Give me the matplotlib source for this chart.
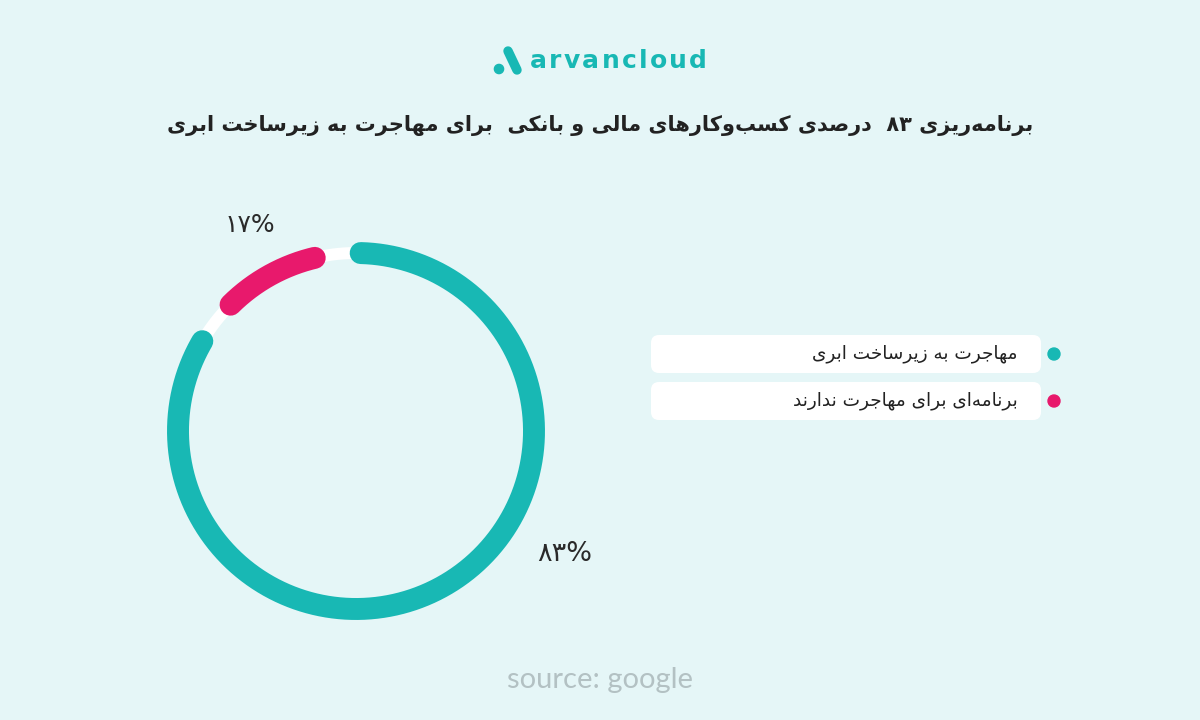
import re

import numpy as np
import matplotlib

matplotlib.use("Agg")
import matplotlib.pyplot as plt
from matplotlib.patches import FancyBboxPatch, Circle
from matplotlib.font_manager import FontProperties
from matplotlib.textpath import TextToPath

# data
title = "برنامه\u200cریزی ۸۳  درصدی کسب\u200cوکارهای مالی و بانکی  برای مهاجرت به زیرساخت ابری"
categories = ["مهاجرت به زیرساخت ابری", "برنامه\u200cای برای مهاجرت ندارند"]
shares = [83, 17]
value_labels = ["۸۳%", "۱۷%"]
colors = ["#18B8B4", "#E8196C"]
source = "source: google"
brand = "arvancloud"

BG = "#E5F6F7"

# Persian presentation forms: isolated, final, (initial, medial)
FORMS = {
    "ا": ("\uFE8D", "\uFE8E"),
    "ب": ("\uFE8F", "\uFE90", "\uFE91", "\uFE92"),
    "ت": ("\uFE95", "\uFE96", "\uFE97", "\uFE98"),
    "ج": ("\uFE9D", "\uFE9E", "\uFE9F", "\uFEA0"),
    "خ": ("\uFEA5", "\uFEA6", "\uFEA7", "\uFEA8"),
    "د": ("\uFEA9", "\uFEAA"),
    "ر": ("\uFEAD", "\uFEAE"),
    "ز": ("\uFEAF", "\uFEB0"),
    "س": ("\uFEB1", "\uFEB2", "\uFEB3", "\uFEB4"),
    "ص": ("\uFEB9", "\uFEBA", "\uFEBB", "\uFEBC"),
    "ل": ("\uFEDD", "\uFEDE", "\uFEDF", "\uFEE0"),
    "م": ("\uFEE1", "\uFEE2", "\uFEE3", "\uFEE4"),
    "ن": ("\uFEE5", "\uFEE6", "\uFEE7", "\uFEE8"),
    "ه": ("\uFEE9", "\uFEEA", "\uFEEB", "\uFEEC"),
    "و": ("\uFEED", "\uFEEE"),
    "ک": ("\uFB8E", "\uFB8F", "\uFB90", "\uFB91"),
    "ی": ("\uFBFC", "\uFBFD", "\uFBFE", "\uFBFF"),
}


def fa(text):
    """shape persian text and put it in visual (left to right) order"""
    out = []
    for i, c in enumerate(text):
        if c not in FORMS:
            out.append(c)
            continue
        f = FORMS[c]
        prev = text[i - 1] if i > 0 else ""
        nxt = text[i + 1] if i + 1 < len(text) else ""
        jp = prev in FORMS and len(FORMS[prev]) == 4
        jn = len(f) == 4 and nxt in FORMS
        if jp and jn:
            out.append(f[3])
        elif jp:
            out.append(f[1])
        elif jn:
            out.append(f[2])
        else:
            out.append(f[0])
    s = "".join(out).replace("\u200c", "")
    runs = re.findall(r"[\u06f0-\u06f9%]+|[^\u06f0-\u06f9%]+", s)
    return "".join(r if re.match(r"[\u06f0-\u06f9%]", r) else r[::-1] for r in reversed(runs))


fig = plt.figure(figsize=(12, 7.2), dpi=100)
fig.patch.set_facecolor(BG)
ax = fig.add_axes([0, 0, 1, 1])
ax.set_xlim(0, 1200)
ax.set_ylim(720, 0)
ax.axis("off")
ax.set_facecolor(BG)

# logo
teal = colors[0]
ax.plot([508, 517], [51, 70], color=teal, lw=6.8, solid_capstyle="round")
ax.add_patch(Circle((499, 69), 4.6, color=teal))
prop = FontProperties(family="DejaVu Sans", size=18, weight="bold")
ttp = TextToPath()
widths = [ttp.get_text_width_height_descent(ch, prop, ismath=False)[0] * 100 / 72
          for ch in brand]
track = (177 - sum(widths)) / (len(brand) - 1)
x = 530
for ch, w in zip(brand, widths):
    ax.text(x, 68, ch, fontproperties=prop, color=teal, ha="left", va="baseline")
    x += w + track

ax.text(600, 125, fa(title), fontsize=15, color="#222222", family="DejaVu Sans",
        fontweight="bold", ha="center", va="center")

# donut
cx, cy, r = 356, 431, 178
gaps = [0, 14.9]
start = 88.5
th = np.linspace(0, 2 * np.pi, 400)
ax.plot(cx + r * np.cos(th), cy - r * np.sin(th), color="white", lw=8.6, zorder=1)
b = start
for share, col, g in zip(shares, colors, gaps):
    sweep = share / 100 * 360
    a = np.radians(np.linspace(b - g, b - sweep + g, 300))
    ax.plot(cx + r * np.cos(a), cy - r * np.sin(a), color=col, lw=15.8,
            solid_capstyle="round", zorder=2)
    b -= sweep

label_pos = [(565, 554), (250, 225)]
label_size = [19.5, 18]
for lab, (x, y), fs in zip(value_labels, label_pos, label_size):
    ax.text(x, y, lab, fontsize=fs, color="#2a2a2a", family="DejaVu Sans",
            ha="center", va="center")

# legend
for i, (cat, col) in enumerate(zip(categories, colors)):
    yc = 354 + i * 47
    ax.add_patch(FancyBboxPatch((651, yc - 19), 390, 38,
                                boxstyle="round,pad=0,rounding_size=8",
                                fc="white", ec="none"))
    ax.add_patch(Circle((1054, yc), 6, color=col))
    ax.text(1018, yc, fa(cat), fontsize=13.3, color="#222222",
            family="DejaVu Sans", ha="right", va="center")

ax.text(600, 680, source, fontsize=21, color="#B3C1C3", family="Lato",
        ha="center", va="center")

fig.savefig("out.png", dpi=100, facecolor=BG)
